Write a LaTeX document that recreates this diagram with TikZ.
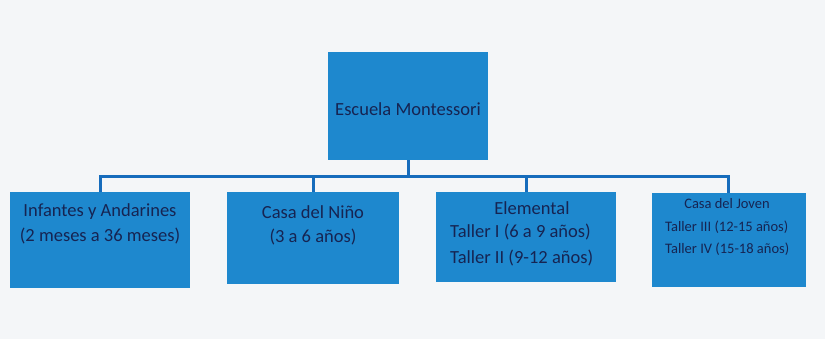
\documentclass[tikz,border=0pt]{standalone}
\usepackage{fontspec}
\setmainfont{Carlito}
\definecolor{bg}{RGB}{244,246,248}
\definecolor{boxfill}{RGB}{30,136,206}
\definecolor{linecol}{RGB}{22,108,188}
\definecolor{txt}{RGB}{22,36,82}
\tikzset{
  orgbox/.style={fill=boxfill, draw=none, inner sep=0pt, anchor=center},
  bigtxt/.style={text=txt, font=\fontsize{18.5}{22}\selectfont, inner sep=0pt, anchor=base},
  smalltxt/.style={text=txt, font=\fontsize{14.5}{18}\selectfont, inner sep=0pt, anchor=base},
  conn/.style={draw=linecol, line width=3pt}
}
\begin{document}
\begin{tikzpicture}[x=1pt,y=-1pt]
\fill[bg] (0,0) rectangle (825,339);
\useasboundingbox (0,0) rectangle (825,339);
% boxes
\node[orgbox, minimum width=160pt, minimum height=108pt] (root) at (408,106) {};
\node[orgbox, minimum width=180pt, minimum height=96pt] (b1) at (100,240) {};
\node[orgbox, minimum width=172pt, minimum height=92pt] (b2) at (313,238) {};
\node[orgbox, minimum width=180pt, minimum height=90pt] (b3) at (526,237) {};
\node[orgbox, minimum width=154pt, minimum height=94pt] (b4) at (729,240) {};
% bus
\coordinate (bus) at (408,177);
\coordinate (j1) at (100,177);
\coordinate (j2) at (313,177);
\coordinate (j3) at (526,177);
\coordinate (j4) at (728,177);
\draw[conn] (root.south) -- (bus);
\draw[conn, line cap=rect] (j1) -- (j4);
\draw[conn] (j1) -- (j1 |- b1.north);
\draw[conn] (j2) -- (j2 |- b2.north);
\draw[conn] (j3) -- (j3 |- b3.north);
\draw[conn] (j4) -- (j4 |- b4.north);
% texts
\node[bigtxt] (t0) at (408,116) {Escuela Montessori};
\node[bigtxt] (t1a) at (100,217) {Infantes y Andarines};
\node[bigtxt] (t1b) at (100,242) {(2 meses a 36 meses)};
\node[bigtxt] (t2a) at (313,219) {Casa del Niño};
\node[bigtxt] (t2b) at (313,243) {(3 a 6 años)};
\node[bigtxt] (t3a) at (532,215) {Elemental};
\node[bigtxt, anchor=base west] (t3b) at (450,238) {Taller I (6 a 9 años)};
\node[bigtxt, anchor=base west] (t3c) at (450,264) {Taller II (9-12 años)};
\node[smalltxt] (t4a) at (727,209) {Casa del Joven};
\node[smalltxt, anchor=base west] (t4b) at (665,232) {Taller III (12-15 años)};
\node[smalltxt, anchor=base west] (t4c) at (665,254) {Taller IV (15-18 años)};
\end{tikzpicture}
\end{document}
